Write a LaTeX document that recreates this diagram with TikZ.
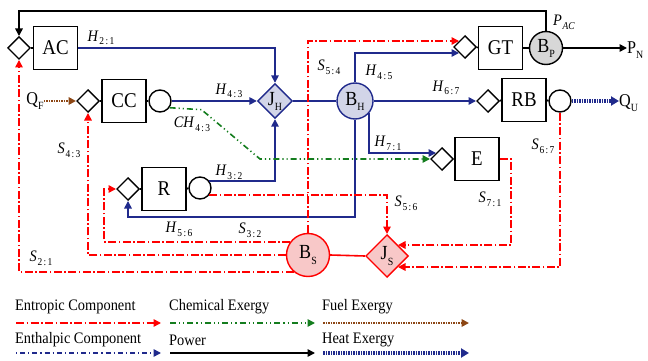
\documentclass[tikz,border=0pt]{standalone}
\usepackage{fontspec}
\setmainfont{Liberation Serif}[FakeStretch=0.9]
\usetikzlibrary{arrows.meta,shapes.geometric,calc}
\definecolor{hblue}{RGB}{32,42,140}
\definecolor{sred}{RGB}{255,0,0}
\definecolor{cgreen}{RGB}{20,125,30}
\definecolor{fbrown}{RGB}{140,70,20}
\definecolor{hfill}{RGB}{210,213,232}
\definecolor{sfill}{RGB}{248,200,200}
\definecolor{pfill}{RGB}{215,215,215}
\newcommand{\sbs}[1]{\kern0.8pt\raisebox{-0.5ex}{\fontsize{10.5}{10.5}\selectfont #1}}
\newcommand{\sbr}[2]{\sbs{#1\kern1.4pt:\kern1.4pt#2}}
\newcommand{\nsub}[1]{\raisebox{-0.55ex}{\fontsize{11}{11}\selectfont #1}}
\begin{document}
\begin{tikzpicture}[x=1pt,y=-1pt,
 tip/.style={-{Triangle[length=7.5pt,width=7.5pt]}},
 heattip/.style={-{Triangle[length=8pt,width=9pt]}},
 unitbox/.style={draw,line width=1.4pt,fill=white,minimum width=44pt,minimum height=43pt,inner sep=0pt,font=\fontsize{21}{21}\selectfont},
 diabox/.style={diamond,aspect=1,draw,line width=1.4pt,fill=white,minimum width=22.6pt,minimum height=22.6pt,inner sep=0pt},
 portc/.style={circle,draw,line width=1.4pt,fill=white,minimum size=22pt,inner sep=0pt},
 hub/.style={inner sep=0pt,line width=1.4pt,font=\fontsize{20}{20}\selectfont},
 pow/.style={line width=1.6pt,black},
 enth/.style={line width=1.6pt,hblue},
 ent/.style={line width=1.6pt,draw=sred,dash pattern=on 8pt off 2.5pt on 1.5pt off 2.5pt},
 chem/.style={line width=1.6pt,draw=cgreen,dash pattern=on 6pt off 3pt on 1.2pt off 3pt on 1.2pt off 3pt},
 fuel/.style={line width=1.8pt,draw=fbrown,dash pattern=on 1.5pt off 1pt},
 heat/.style={line width=3.2pt,draw=hblue,dash pattern=on 1.5pt off 1pt},
 lab/.style={inner sep=0pt,font=\fontsize{16}{16}\selectfont},
 endl/.style={inner sep=0pt,font=\fontsize{18}{18}\selectfont},
 legt/.style={inner sep=0pt,anchor=west,font=\fontsize{16}{16}\selectfont}
]
\useasboundingbox (0,0) rectangle (648,361);

% units
\node[diabox] (acd) at (19,48) {};
\node[unitbox] (ac) at (55.5,48) {AC};
\node[diabox] (ccd) at (88,101) {};
\node[unitbox] (cc) at (124,101) {CC};
\node[portc] (ccc) at (160,101) {};
\node[hub,diamond,aspect=1,draw=hblue,fill=hfill,minimum width=35pt,minimum height=35pt] (jh) at (275,101) {J\nsub{H}};
\node[hub,circle,draw=hblue,fill=hfill,minimum size=36pt] (bh) at (355,101) {B\nsub{H}};
\node[diabox] (gtd) at (465,47) {};
\node[unitbox] (gt) at (500.5,48) {GT};
\node[hub,circle,draw=black,fill=pfill,minimum size=33pt] (bp) at (546,48) {B\nsub{P}};
\node[diabox] (rbd) at (488,101) {};
\node[unitbox] (rb) at (524,100) {RB};
\node[portc] (rbc) at (560,101) {};
\node[diabox] (ed) at (442,159) {};
\node[unitbox] (e) at (477,159) {E};
\node[diabox] (rd) at (128,189) {};
\node[unitbox] (r) at (164,189) {R};
\node[portc] (rc) at (200,188) {};
\node[hub,circle,draw=sred,fill=sfill,minimum size=43pt] (bs) at (308,255) {B\nsub{S}};
\node[hub,diamond,aspect=1,draw=sred,fill=sfill,minimum width=42.6pt,minimum height=42.6pt] (js) at (387,256) {J\nsub{S}};

% end labels
\node[endl] (qf) at (35,101) {Q\nsub{F}};
\node[endl,anchor=west] (pn) at (627,50) {P\nsub{N}};
\node[endl,anchor=west] (qu) at (619,103) {Q\nsub{U}};

% flow labels
\node[lab] (l21) at (101,38) {\textit{H}\sbr{2}{1}};
\node[lab] (l43) at (229,91) {\textit{H}\sbr{4}{3}};
\node[lab] (lc43) at (192,124) {\textit{CH}\sbr{4}{3}};
\node[lab] (l32) at (229,172) {\textit{H}\sbr{3}{2}};
\node[lab] (ls54) at (329,67) {\textit{S}\sbr{5}{4}};
\node[lab] (l45) at (379,72) {\textit{H}\sbr{4}{5}};
\node[lab] (l67) at (446,88) {\textit{H}\sbr{6}{7}};
\node[lab] (lpac) at (564,22) {\textit{P}\sbs{\textit{AC}}};
\node[lab] (l71) at (388,143) {\textit{H}\sbr{7}{1}};
\node[lab] (ls56) at (406,203) {\textit{S}\sbr{5}{6}};
\node[lab] (ls71) at (490,199) {\textit{S}\sbr{7}{1}};
\node[lab] (ls67) at (543,146) {\textit{S}\sbr{6}{7}};
\node[lab] (l56) at (179,229) {\textit{H}\sbr{5}{6}};
\node[lab] (ls32) at (250,230) {\textit{S}\sbr{3}{2}};
\node[lab] (ls43) at (69,150) {\textit{S}\sbr{4}{3}};
\node[lab] (ls21) at (41,258) {\textit{S}\sbr{2}{1}};

% short unit links
\draw[pow] (acd.east) -- (ac.west);
\draw[pow] (ccd.east) -- (cc.west);
\draw[pow] (cc.east) -- (ccc.west);
\draw[pow] (gtd.east) -- (gt.west);
\draw[pow] (gt.east) -- (bp.west);
\draw[pow] (rbd.east) -- (rb.west);
\draw[pow] (rb.east) -- (rbc.west);
\draw[pow] (ed.east) -- (e.west);
\draw[pow] (rd.east) -- (r.west);
\draw[pow] (r.east) -- (rc.west);

% power
\draw[pow,tip] (bp.north) |- ($(acd.north)+(0,-25)$) -- (acd.north);
\draw[pow,tip] (bp.east) -- (bp.east -| pn.west);

% enthalpic
\draw[enth,tip] (ac.east) -| (jh.north);
\draw[enth,tip] (ccc.east) -- (jh.west);
\draw[enth,tip] (rc.36.7) -| (jh.south);
\draw[enth] (jh.east) -- (bh.west);
\draw[enth,tip] (bh.north) |- ($(gtd.west)!0.5!(gtd.south)$);
\draw[enth,tip] (bh.east) -- (rbd.west);
\draw[enth,tip] (bh.-41.5) |- ($(ed.west)!0.5!(ed.north)$);
\draw[enth,tip] (bh.south) |- ([yshift=-16pt]rd.south) -- (rd.south);

% entropic
\draw[ent,tip] (bs.north) |- ($(gtd.west)!0.5!(gtd.north)$);
\draw[ent,tip] (rc.-36.7) -| (js.north);
\draw[ent,tip] (bs.144.15) -| ([xshift=-12pt]rd.west) -- (rd.west);
\draw[ent,tip] (bs.west) -| (ccd.south);
\draw[ent,tip] (bs.230) -| (acd.south);
\draw[sred,line width=1.6pt] (bs.east) -- (js.west);
\draw[ent,tip] (e.east) -- ++(11.3,0) |- ($(js.north)!0.5!(js.east)$);
\draw[ent,tip] (rbc.south) |- ($(js.south)!0.5!(js.east)$);

% chemical
\draw[chem,tip] (ccc.-35) -- ++(32,2) -- ($(ed.west)+(-170,0)$) -- (ed.west);

% fuel and heat
\draw[fuel,tip] (ccd.west -| qf.east) -- (ccd.west);
\draw[heat,heattip] (rbc.east) -- (rbc.east -| qu.west);

% legend
\node[legt] (lg1) at (15,307) {Entropic Component};
\node[legt] (lg2) at (169,307) {Chemical Exergy};
\node[legt] (lg3) at (322,307) {Fuel Exergy};
\node[legt] (lg4) at (15,340) {Enthalpic Component};
\node[legt] (lg5) at (169,340) {Power};
\node[legt] (lg6) at (322,340) {Heat Exergy};
\coordinate (a1s) at (16,323); \coordinate (a1e) at (161,323);
\coordinate (a2s) at (170,323); \coordinate (a2e) at (315,323);
\coordinate (a3s) at (323,323); \coordinate (a3e) at (469,323);
\coordinate (a4s) at (16,353); \coordinate (a4e) at (161,353);
\coordinate (a5s) at (170,353); \coordinate (a5e) at (315,353);
\coordinate (a6s) at (323,353); \coordinate (a6e) at (469,353);
\draw[ent,tip] (a1s) -- (a1e);
\draw[chem,tip] (a2s) -- (a2e);
\draw[fuel,tip] (a3s) -- (a3e);
\draw[line width=1.6pt,draw=hblue,dash pattern=on 1.2pt off 3pt on 5pt off 3pt,tip] (a4s) -- (a4e);
\draw[pow,tip] (a5s) -- (a5e);
\draw[heat,heattip] (a6s) -- (a6e);
\end{tikzpicture}
\end{document}
